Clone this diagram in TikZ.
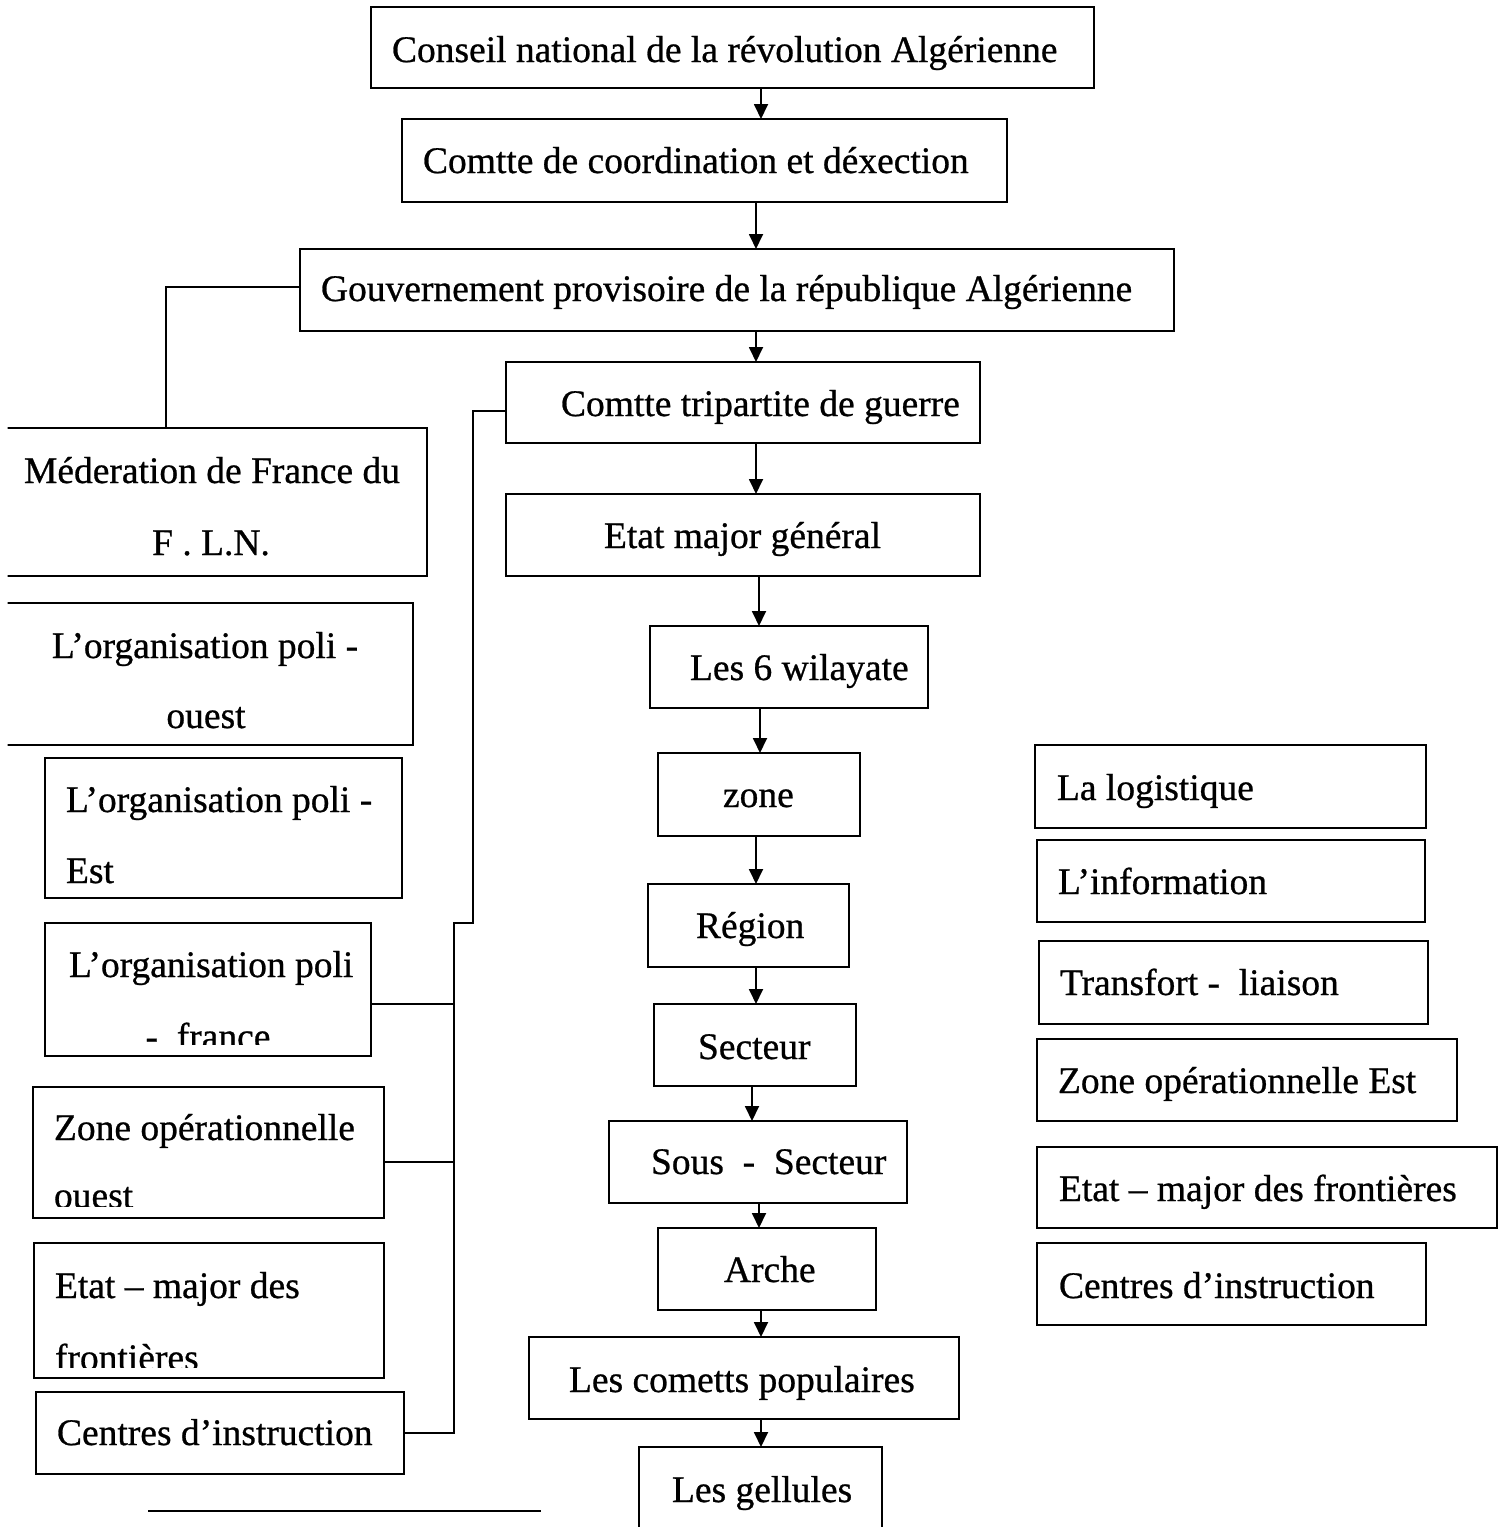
\documentclass[tikz,border=0pt]{standalone}
\usepackage{fontspec}
\setmainfont[UprightFeatures={FakeBold=0.7}]{Liberation Serif}
\usetikzlibrary{arrows.meta}
\tikzset{
  box/.style={draw, line width=1.8pt, inner sep=0pt, outer sep=0pt},
  txt/.style={font=\fontsize{37.5}{45}\selectfont, inner sep=0pt, outer sep=0pt},
  link/.style={line width=1.8pt},
  arr/.style={line width=1.8pt, -{Triangle[length=15pt,width=14pt]}},
}
\newcommand\mybox[5]{\node[box, minimum width={(#4-#2)*1pt}, minimum height={(#5-#3)*1pt}] (#1) at ({(#2+#4)/2},{(#3+#5)/2}) {};}
\begin{document}
\begin{tikzpicture}[x=1pt,y=-1pt]
\path[use as bounding box] (0,0) rectangle (1503,1527);
\clip (0,0) rectangle (1503,1527);

% ---- central chain ----
\mybox{b1}{371}{7}{1094}{88}
\node[txt, anchor=base west] (t1) at (392,62) {Conseil national de la révolution Algérienne};
\mybox{b2}{402}{119}{1007}{202}
\node[txt, anchor=base west] (t2) at (423,173) {Comtte de coordination et déxection};
\mybox{b3}{300}{249}{1174}{331}
\node[txt, anchor=base west] (t3) at (321,301) {Gouvernement provisoire de la république Algérienne};
\mybox{b4}{506}{362}{980}{443}
\node[txt, anchor=base west] (t4) at (561,416) {Comtte tripartite de guerre};
\mybox{b5}{506}{494}{980}{576}
\node[txt, anchor=base west] (t5) at (604,548) {Etat major général};
\mybox{b6}{650}{626}{928}{708}
\node[txt, anchor=base west] (t6) at (690,680) {Les 6 wilayate};
\mybox{b7}{658}{753}{860}{836}
\node[txt, anchor=base west] (t7) at (723,807) {zone};
\mybox{b8}{648}{884}{849}{967}
\node[txt, anchor=base west] (t8) at (696,938) {Région};
\mybox{b9}{654}{1004}{856}{1086}
\node[txt, anchor=base west] (t9) at (698,1059) {Secteur};
\mybox{b10}{609}{1121}{907}{1203}
\node[txt, anchor=base west] (t10) at (651,1174) {Sous\hspace{.5em}-\hspace{.5em}Secteur};
\mybox{b11}{658}{1228}{876}{1310}
\node[txt, anchor=base west] (t11) at (724,1282) {Arche};
\mybox{b12}{529}{1337}{959}{1419}
\node[txt, anchor=base west] (t12) at (569,1392) {Les cometts populaires};
\mybox{b13}{639}{1447}{882}{1560}
\node[txt, anchor=base west] (t13) at (672,1502) {Les gellules};

\coordinate (a1) at (761,0);
\coordinate (a2) at (756,0);
\coordinate (a5) at (759,0);
\coordinate (a6) at (760,0);
\coordinate (a9) at (752,0);
\draw[arr] (b1.south -| a1) -- (b2.north -| a1);
\draw[arr] (b2.south -| a2) -- (b3.north -| a2);
\draw[arr] (b3.south -| a2) -- (b4.north -| a2);
\draw[arr] (b4.south -| a2) -- (b5.north -| a2);
\draw[arr] (b5.south -| a5) -- (b6.north -| a5);
\draw[arr] (b6.south -| a6) -- (b7.north -| a6);
\draw[arr] (b7.south -| a2) -- (b8.north -| a2);
\draw[arr] (b8.south -| a2) -- (b9.north -| a2);
\draw[arr] (b9.south -| a9) -- (b10.north -| a9);
\draw[arr] (b10.south -| a5) -- (b11.north -| a5);
\draw[arr] (b11.south -| a1) -- (b12.north -| a1);
\draw[arr] (b12.south -| a1) -- (b13.north -| a1);

% ---- left column ----
\begin{scope}
\clip (7.5,400) rectangle (600,760);
\mybox{l1}{-95}{428}{427}{576}
\mybox{l2}{-3}{603}{413}{745}
\end{scope}
\node[txt, anchor=base] (l1a) at (212,483) {Méderation de France du};
\node[txt, anchor=base] (l1b) at (211,555) {F . L.N.};
\node[txt, anchor=base] (l2a) at (205,658) {L’organisation poli -};
\node[txt, anchor=base] (l2b) at (206,728) {ouest};

\mybox{l3}{45}{758}{402}{898}
\node[txt, anchor=base west] (l3a) at (66,812) {L’organisation poli -};
\node[txt, anchor=base west] (l3b) at (66,883) {Est};

\mybox{l4}{45}{923}{371}{1056}
\node[txt, anchor=base west] (l4a) at (69,977) {L’organisation poli};
\begin{scope}
\clip (45,1000) rectangle (371,1044);
\node[txt, anchor=base] (l4b) at (208,1049) {-\hspace{.5em}france};
\end{scope}

\mybox{l5}{33}{1087}{384}{1218}
\node[txt, anchor=base west] (l5a) at (54,1140) {Zone opérationnelle};
\begin{scope}
\clip (33,1150) rectangle (384,1206);
\node[txt, anchor=base west] (l5b) at (54,1208) {ouest};
\end{scope}

\mybox{l6}{34}{1243}{384}{1378}
\node[txt, anchor=base west] (l6a) at (55,1298) {Etat – major des};
\begin{scope}
\clip (34,1310) rectangle (384,1367);
\node[txt, anchor=base west] (l6b) at (55,1370) {frontières};
\end{scope}

\mybox{l7}{36}{1392}{404}{1474}
\node[txt, anchor=base west] (l7a) at (57,1445) {Centres d’instruction};

% ---- right column ----
\mybox{r1}{1035}{745}{1426}{828}
\node[txt, anchor=base west] (r1a) at (1057,800) {La logistique};
\mybox{r2}{1037}{840}{1425}{922}
\node[txt, anchor=base west] (r2a) at (1058,894) {L’information};
\mybox{r3}{1039}{941}{1428}{1024}
\node[txt, anchor=base west] (r3a) at (1060,995) {Transfort -\hspace{.5em}liaison};
\mybox{r4}{1037}{1039}{1457}{1121}
\node[txt, anchor=base west] (r4a) at (1058,1093) {Zone opérationnelle Est};
\mybox{r5}{1037}{1147}{1497}{1228}
\node[txt, anchor=base west] (r5a) at (1059,1201) {Etat – major des frontières};
\mybox{r6}{1037}{1243}{1426}{1325}
\node[txt, anchor=base west] (r6a) at (1059,1298) {Centres d’instruction};

% ---- connectors ----
\draw[link] ([yshift=3pt]b3.west) -| (l1.north);
\coordinate (k1) at (473,923);
\coordinate (k2) at (454,923);
\draw[link] ([yshift=-8.5pt]b4.west) -| (k1) -- (k2) |- (l7.east);
\draw[link] ([yshift=-14.5pt]l4.east) -| (k2);
\draw[link] ([yshift=-9.5pt]l5.east) -| (k2);

% ---- loose line at the bottom ----
\coordinate (s1) at (148,1511);
\coordinate (s2) at (541,1511);
\draw[link] (s1) -- (s2);
\end{tikzpicture}
\end{document}
